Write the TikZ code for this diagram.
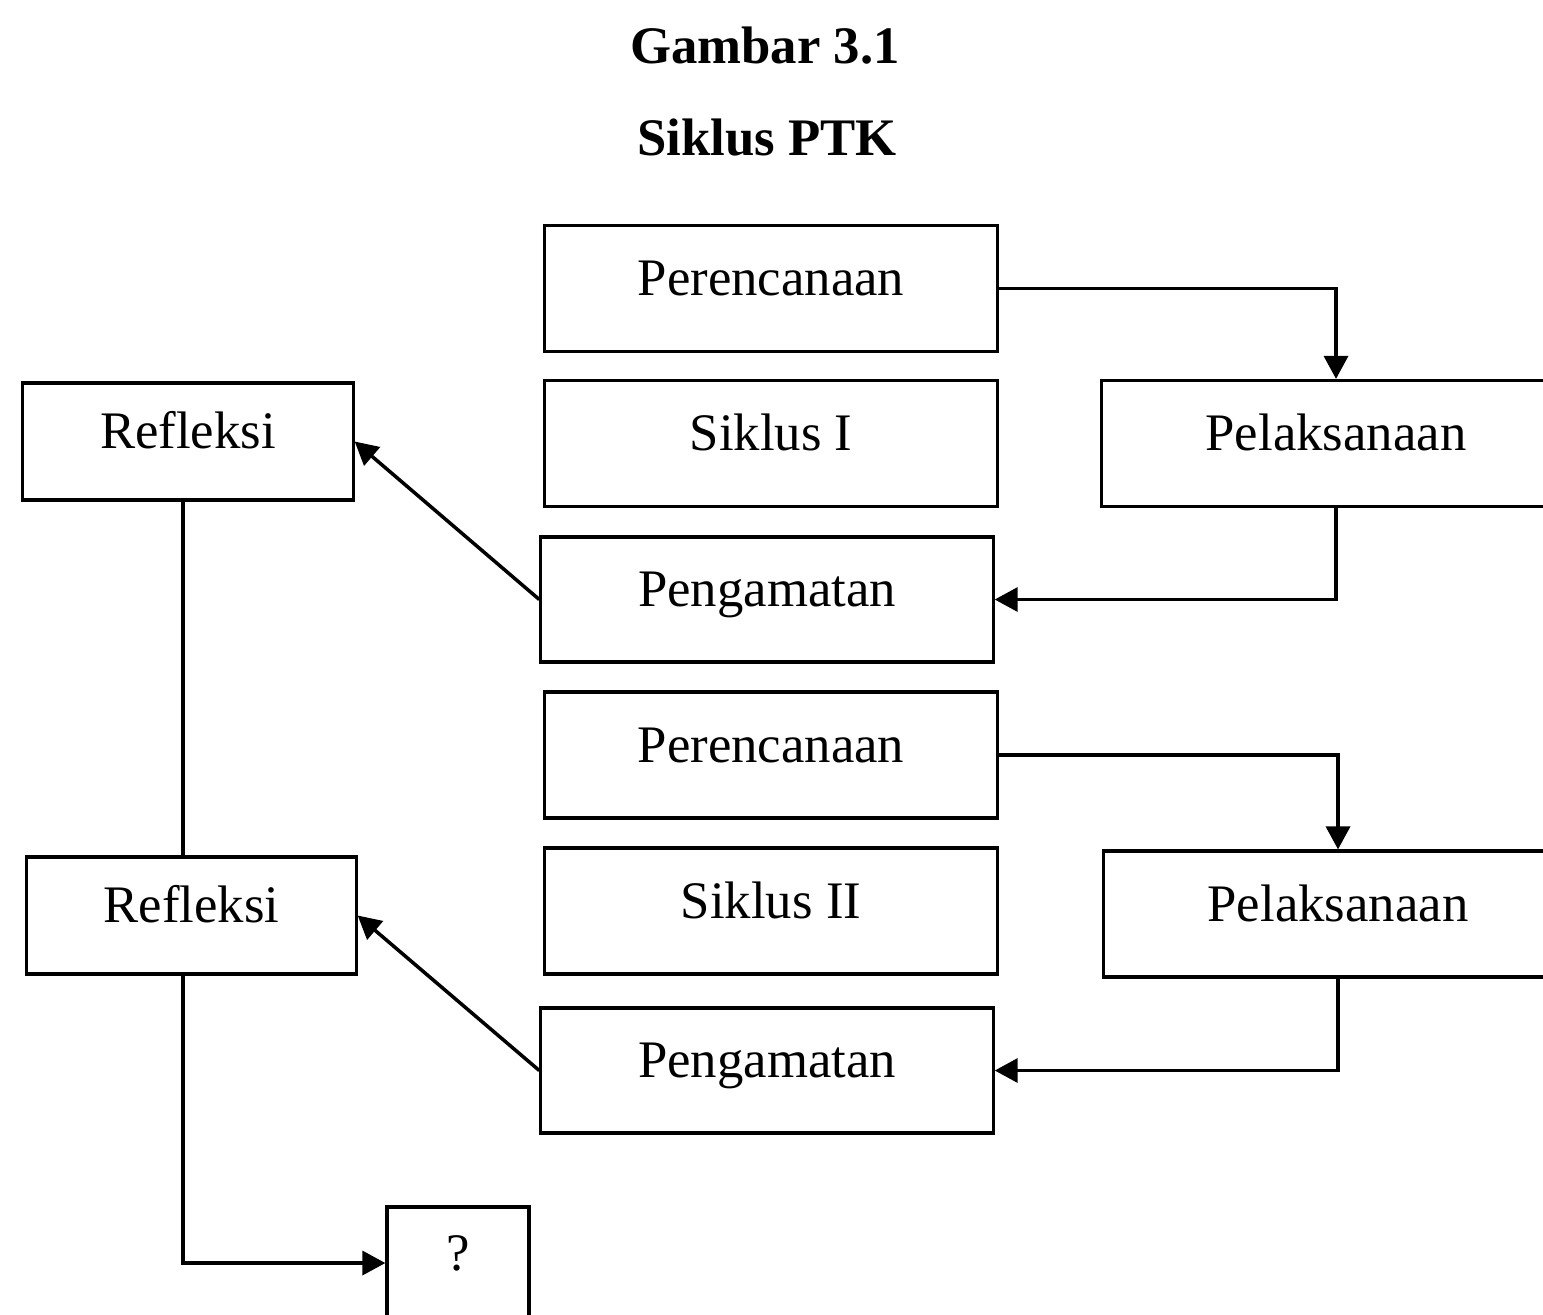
\documentclass[tikz,border=0pt]{standalone}
\usepackage{fontspec}
\setmainfont{Liberation Serif}
\usetikzlibrary{arrows.meta}

\begin{document}
\begin{tikzpicture}[x=0.01cm,y=-0.01cm,
  kotak/.style={draw,line width=0.9pt,minimum width=4.52cm,minimum height=1.26cm,
    text height=0.38cm,text depth=0.24cm,font=\fontsize{15}{18}\selectfont},
  judul/.style={anchor=base,font=\fontsize{15}{18}\selectfont\bfseries},
  panah/.style={line width=1pt,-{Triangle[length=0.23cm,width=0.24cm]}}]
% --- page frame
\clip (0,0) rectangle (1543,1314);

% ---- title
\node[judul] (gambar) at (765,63) {Gambar 3.1};
\node[judul] (siklus) at (767,155) {Siklus PTK};

% ---- cycle I
\node[kotak] (pren1) at (771,288.5) {Perencanaan};
\node[kotak] (sik1) at (771,443.5) {Siklus I};
\node[kotak,minimum width=4.68cm] (pel1) at (1336,443.5) {Pelaksanaan};
\node[kotak,minimum width=3.3cm,minimum height=1.17cm] (ref1) at (188,441.5) {Refleksi};
\node[kotak,minimum height=1.25cm] (peng1) at (767,599.5) {Pengamatan};

% ---- cycle II
\node[kotak] (pren2) at (771,755) {Perencanaan};
\node[kotak] (sik2) at (771,911) {Siklus II};
\node[kotak,minimum width=4.68cm] (pel2) at (1338,914) {Pelaksanaan};
\node[kotak,minimum width=3.29cm,minimum height=1.17cm] (ref2) at (191.5,915.5) {Refleksi};
\node[kotak,minimum height=1.25cm] (peng2) at (767,1070.5) {Pengamatan};

% ---- next step
\node[kotak,minimum width=1.42cm,minimum height=1.12cm] (tanya) at (458,1263) {?};

% ---- connectors of cycle I
\draw[panah] (pren1.east) -| (pel1.north);
\draw[panah] (pel1.south) |- (peng1.east);
\draw[panah] (peng1.west) -- (ref1.east);
\draw[line width=1pt] ([xshift=-0.05cm]ref1.south) -- ([xshift=-0.05cm]ref1.south |- ref2.north);

% ---- connectors of cycle II
\draw[panah] (pren2.east) -| (pel2.north);
\draw[panah] (pel2.south) |- (peng2.east);
\draw[panah] (peng2.west) -- (ref2.east);
\draw[panah] ([xshift=-0.085cm]ref2.south) |- (tanya.west);
\end{tikzpicture}
\end{document}
